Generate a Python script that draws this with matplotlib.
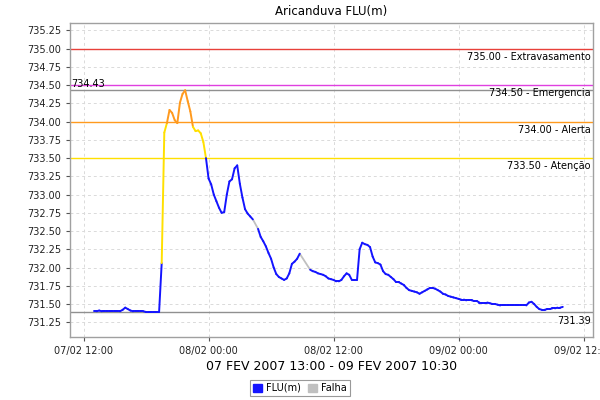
import numpy as np
import pandas as pd
import matplotlib
matplotlib.use("Agg")
import matplotlib.pyplot as plt
import matplotlib.dates as mdates
from matplotlib.patches import Patch

plt.rcParams['font.family'] = ['DejaVu Sans']

title = "Aricanduva FLU(m)"
xlabel = "07 FEV 2007 13:00 - 09 FEV 2007 10:30"
start_time = "2007-02-07 13:00"
step = "15min"

# FLU(m) readings every 15 minutes (nan = Falha / missing)
nan = np.nan
flu_day1 = [
    731.40, 731.40, 731.41, 731.40,
    731.40, 731.40, 731.40, 731.40,
    731.40, 731.40, 731.40, 731.42,
    731.45, 731.43, 731.41, 731.40,
    731.40, 731.40, 731.40, 731.40,
    731.39, 731.39, 731.39, 731.39,
    731.39, 731.39, 732.06, 733.85,
    733.98, 734.16, 734.12, 734.02,
    733.98, 734.26, 734.38, 734.43,
    734.28, 734.14, 733.93, 733.87,
    733.88, 733.84, 733.72, 733.50,
]
flu_day2 = [
    733.22, 733.14, 733.00, 732.91,
    732.82, 732.75, 732.76, 733.00,
    733.18, 733.21, 733.36, 733.40,
    733.15, 732.96, 732.80, 732.74,
    732.70, 732.66, nan, 732.53,
    732.42, 732.36, 732.29, 732.20,
    732.12, 732.00, 731.91, 731.87,
    731.85, 731.83, 731.85, 731.92,
    732.05, 732.08, 732.12, 732.19,
    nan, nan, nan, 731.97,
    731.95, 731.94, 731.92, 731.91,
    731.90, 731.88, 731.85, 731.84,
    731.83, 731.81, 731.81, 731.83,
    731.88, 731.92, 731.90, 731.83,
    731.83, 731.83, 732.25, 732.34,
    732.32, 732.31, 732.28, 732.15,
    732.07, 732.06, 732.04, 731.95,
    731.91, 731.90, 731.87, 731.84,
    731.80, 731.80, 731.78, 731.76,
    731.72, 731.69, 731.68, 731.67,
    731.66, 731.64, 731.66, 731.68,
    731.70, 731.72, 731.72, 731.71,
    731.69, 731.67, 731.64, 731.63,
    731.61, 731.60, 731.59, 731.58,
]
flu_day3 = [
    731.57, 731.56, 731.56, 731.55,
    731.55, 731.55, 731.54, 731.54,
    731.52, 731.52, 731.52, 731.52,
    731.51, 731.50, 731.50, 731.49,
    731.48, 731.48, 731.48, 731.48,
    731.48, 731.48, 731.48, 731.48,
    731.48, 731.48, 731.48, 731.52,
    731.53, 731.50, 731.46, 731.43,
    731.42, 731.42, 731.43, 731.43,
    731.44, 731.44, 731.45, 731.45,
    731.46,
]

levels = [735.00, 734.50, 734.00, 733.50]
level_names = ["Extravasamento", "Emergencia", "Alerta", "Atenção"]
level_colors = ["#e8403a", "#e040e0", "#ff9a1e", "#ffe000"]

C_BLUE = "#1414ff"
C_FALHA = "#c0c0c0"

values = np.array(flu_day1 + flu_day2 + flu_day3, dtype=float)
times = pd.date_range(start_time, periods=len(values), freq=step)
tnum = mdates.date2num(times.to_pydatetime())

fig = plt.figure(figsize=(6, 4), dpi=100)
ax = fig.add_axes([0.117, 0.158, 0.871, 0.784])

# grid
ax.grid(True, color="#dadada", linestyle=(0, (3, 3)), linewidth=0.7)
ax.set_axisbelow(True)

# threshold lines
for lv, nm, col in zip(levels, level_names, level_colors):
    ax.axhline(lv, color=col, linewidth=1.0, zorder=2)
    ax.text(0.996, lv - 0.04, f"{lv:.2f} - {nm}", transform=ax.get_yaxis_transform(),
            ha="right", va="top", fontsize=7, color="black", zorder=5)

vmax = np.nanmax(values)
vmin = np.nanmin(values)
ax.axhline(vmax, color="#909090", linewidth=1.0, zorder=2)
ax.axhline(vmin, color="#909090", linewidth=1.0, zorder=2)
ax.text(0.002, vmax + 0.02, f"{vmax:.2f}", transform=ax.get_yaxis_transform(),
        ha="left", va="bottom", fontsize=7, color="black")
ax.text(0.996, vmin - 0.05, f"{vmin:.2f}", transform=ax.get_yaxis_transform(),
        ha="right", va="top", fontsize=7, color="black")


def seg_color(a, b):
    m = max(a, b)
    if m > 734.0:
        return level_colors[2]
    if m > 733.5:
        return level_colors[3]
    return C_BLUE


# data segments
n = len(values)
i = 0
while i < n - 1:
    if np.isnan(values[i]):
        i += 1
        continue
    if np.isnan(values[i + 1]):
        j = i + 1
        while j < n and np.isnan(values[j]):
            j += 1
        if j < n:
            ax.plot([tnum[i], tnum[j]], [values[i], values[j]], color=C_FALHA,
                    linewidth=1.3, zorder=3, solid_capstyle="butt")
        i = j
        continue
    ax.plot(tnum[i:i + 2], values[i:i + 2], color=seg_color(values[i], values[i + 1]),
            linewidth=1.4, zorder=4, solid_capstyle="round")
    i += 1

# axes limits / ticks
x0 = mdates.date2num(pd.Timestamp("2007-02-07 10:43").to_pydatetime())
x1 = mdates.date2num(pd.Timestamp("2007-02-09 12:53").to_pydatetime())
ax.set_xlim(x0, x1)
ax.set_ylim(731.05, 735.35)
ax.set_yticks(np.arange(731.25, 735.26, 0.25))
ax.yaxis.set_major_formatter(matplotlib.ticker.FormatStrFormatter("%.2f"))
ax.xaxis.set_major_locator(mdates.HourLocator(byhour=[0, 12]))
ax.xaxis.set_major_formatter(mdates.DateFormatter("%d/%m %H:%M"))
ax.tick_params(axis="both", labelsize=7, colors="#555555", length=3,
               width=0.8, labelcolor="#222222")
for s in ax.spines.values():
    s.set_color("#a0a0a0")
    s.set_linewidth(1.0)

ax.set_title(title, fontsize=8.5, pad=6)
ax.set_xlabel(xlabel, fontsize=9, labelpad=3)

handles = [Patch(facecolor=C_BLUE, edgecolor=C_BLUE, label="FLU(m)"),
           Patch(facecolor=C_FALHA, edgecolor=C_FALHA, label="Falha")]
leg = fig.legend(handles=handles, loc="center", bbox_to_anchor=(0.5, 0.03),
                 ncol=2, fontsize=7, frameon=True, fancybox=False,
                 handlelength=0.9, handleheight=0.9, handletextpad=0.4,
                 columnspacing=0.8, borderpad=0.35)
leg.get_frame().set_edgecolor("#808080")
leg.get_frame().set_linewidth(0.8)

fig.savefig("out.png", dpi=100)
